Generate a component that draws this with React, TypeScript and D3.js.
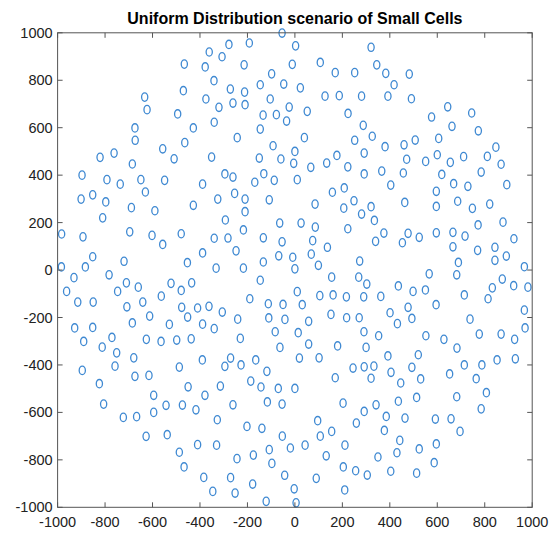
import React from "react";
import * as d3 from "d3";

const titleText = "Uniform Distribution scenario of Small Cells";
const xTicks = [-1000, -800, -600, -400, -200, 0, 200, 400, 600, 800, 1000];
const yTicks = [-1000, -800, -600, -400, -200, 0, 200, 400, 600, 800, 1000];

const cellsNorthWest: [number, number][] = [
  [-361,919],[-466,868],[-378,856],[-470,756],[-633,729],[-375,721],[-623,676],[-494,658],[-674,599],[-428,599],[-673,547],[-464,537],[-557,511],
];
const cellsNorth: [number, number][] = [
  [-54,999],[-278,951],[-192,957],[3,945],[-307,899],[-214,865],[-11,867],[107,875],[170,832],[252,832],[-98,827],[-341,798],[-146,781],[-47,784],[23,768],[-272,763],[-212,750],[127,733],[187,735],[281,733],[-104,721],[-261,704],[-210,697],[-320,686],[-24,687],[52,669],[-134,653],[-78,655],[-35,628],[224,660],[-340,623],[288,610],[-146,594],[-243,558],[40,558],[252,547],[-92,524],
];
const cellsNorthEast: [number, number][] = [
  [321,939],[345,865],[383,829],[482,826],[418,781],[392,733],[491,722],[644,688],[576,645],[745,662],[662,606],[773,587],[326,564],[507,548],[460,528],[606,555],[380,520],[847,518],
];
const cellsWestUpper: [number, number][] = [
  [-821,475],[-762,493],[-685,447],[-509,469],[-351,476],[-897,400],[-792,381],[-736,362],[-649,381],[-549,378],[-389,362],[-630,329],[-901,299],[-852,317],[-797,287],[-689,263],[-590,250],[-428,273],[-810,220],[-983,152],[-893,140],[-696,161],[-602,146],[-557,108],[-479,153],[-389,72],[-852,56],[-720,37],[-453,31],[-984,13],[-883,13],
];
const cellsCenterUpper: [number, number][] = [
  [0,500],[-150,472],[-59,468],[-5,450],[67,433],[134,451],[177,483],[223,435],[292,493],[292,405],[-295,405],[-261,392],[-131,406],[-169,370],[-87,378],[10,381],[-254,323],[-325,299],[-210,299],[-108,296],[158,328],[208,346],[249,292],[85,278],[206,261],[281,236],[-210,246],[-293,211],[-64,198],[26,198],[86,181],[223,174],[-217,169],[-340,134],[-282,135],[-133,136],[-54,119],[75,124],[137,96],[-248,81],[-68,60],[-9,54],[69,67],[-133,34],[99,20],[273,38],[-332,8],[-217,8],[0,5],
];
const cellsEastUpper: [number, number][] = [
  [471,467],[551,458],[600,486],[655,454],[711,478],[811,479],[869,446],[366,417],[457,409],[619,403],[785,413],[404,358],[669,364],[729,353],[893,360],[596,332],[463,285],[321,267],[596,268],[686,290],[748,260],[821,278],[335,209],[772,190],[877,202],[375,156],[340,121],[453,115],[477,155],[524,138],[596,157],[666,159],[717,143],[666,98],[923,132],[770,83],[843,96],[891,59],[843,41],[689,32],[967,14],
];
const cellsWestLower: [number, number][] = [
  [-931,-32],[-783,-20],[-962,-90],[-710,-54],[-660,-72],[-747,-90],[-522,-56],[-435,-54],[-479,-86],[-563,-110],[-915,-135],[-850,-135],[-708,-155],[-641,-135],[-477,-157],[-410,-160],[-362,-153],[-612,-194],[-452,-198],[-685,-223],[-529,-229],[-389,-228],[-928,-244],[-852,-242],[-890,-301],[-771,-284],[-812,-325],[-751,-349],[-626,-292],[-564,-301],[-498,-295],[-437,-290],[-679,-370],[-390,-379],[-896,-423],[-758,-405],[-674,-448],[-615,-444],[-487,-409],[-824,-479],[-450,-492],
];
const cellsCenterLower: [number, number][] = [
  [-146,-43],[155,-30],[269,-30],[303,-59],[-190,-121],[-112,-142],[-50,-145],[10,-91],[31,-146],[105,-108],[161,-105],[217,-113],[290,-113],[-306,-177],[-241,-207],[-340,-247],[-110,-202],[-42,-208],[58,-216],[152,-187],[218,-201],[271,-201],[-83,-260],[14,-264],[291,-260],[-230,-288],[-63,-326],[58,-312],[180,-320],[300,-326],[-271,-371],[-295,-406],[-227,-400],[-165,-379],[-118,-427],[19,-371],[102,-370],[245,-413],[292,-408],[170,-454],[-186,-468],[-314,-489],[-143,-493],[-70,-499],[0,-499],
];
const cellsEastLower: [number, number][] = [
  [566,-16],[682,-20],[362,-111],[436,-67],[498,-90],[550,-84],[595,-146],[714,-105],[832,-75],[874,-38],[922,-66],[982,-72],[814,-121],[967,-169],[970,-244],[401,-180],[477,-157],[432,-226],[493,-204],[738,-207],[353,-277],[552,-277],[628,-292],[777,-270],[869,-270],[926,-292],[683,-329],[392,-362],[520,-357],[333,-405],[493,-410],[714,-400],[788,-400],[852,-379],[929,-374],[321,-456],[405,-431],[446,-476],[530,-459],[652,-438],[764,-458],
];
const cellsSouthWest: [number, number][] = [
  [-595,-528],[-379,-528],[-806,-565],[-723,-621],[-667,-618],[-595,-600],[-543,-570],[-474,-569],[-417,-589],[-627,-701],[-538,-694],[-410,-736],[-487,-768],[-467,-830],[-384,-874],[-346,-933],
];
const cellsSouth: [number, number][] = [
  [-261,-568],[-116,-556],[-54,-565],[203,-561],[292,-596],[-327,-631],[-202,-659],[-139,-667],[96,-635],[259,-645],[-53,-700],[107,-700],[155,-680],[-330,-738],[43,-738],[211,-738],[-108,-757],[-19,-750],[-244,-795],[-175,-780],[-97,-815],[132,-783],[204,-830],[256,-846],[305,-864],[-271,-875],[-43,-865],[90,-878],[-178,-902],[-252,-940],[-3,-922],[210,-927],[-121,-975],[5,-981],
];
const cellsSouthEast: [number, number][] = [
  [807,-517],[682,-534],[513,-537],[436,-553],[342,-568],[785,-585],[385,-617],[464,-624],[592,-628],[658,-627],[696,-680],[377,-676],[442,-718],[596,-733],[524,-754],[430,-770],[350,-788],[587,-812],[404,-848],[513,-856],
];

const allCells = [
  ...cellsNorthWest, ...cellsNorth, ...cellsNorthEast,
  ...cellsWestUpper, ...cellsCenterUpper, ...cellsEastUpper,
  ...cellsWestLower, ...cellsCenterLower, ...cellsEastLower,
  ...cellsSouthWest, ...cellsSouth, ...cellsSouthEast,
];

const W = 558;
const H = 540;
const left = 57.6, right = 532.2, top = 32.8, bottom = 507.3;
const tickLen = 5;
const axisColor = "#555555";
const markerColor = "#3f89d2";
const font = "'Liberation Sans', Arial, sans-serif";

export default function App() {
  const x = d3.scaleLinear().domain([-1000, 1000]).range([left, right]);
  const y = d3.scaleLinear().domain([-1000, 1000]).range([bottom, top]);
  return (
    <svg width={W} height={H} style={{ position: "absolute", left: 0, top: 0, background: "#fff" }}>
      <rect x={0} y={0} width={W} height={H} fill="#fff" />
      <text x={(left + right) / 2} y={24} textAnchor="middle" fontFamily={font} fontWeight="bold" fontSize={16} fill="#000">
        {titleText}
      </text>
      <g>
        {allCells.map(([cx, cy], i) => (
          <ellipse key={i} cx={x(cx)} cy={y(cy)} rx={3.1} ry={4.2} fill="none" stroke={markerColor} strokeWidth={1.3} />
        ))}
      </g>
      <rect x={left} y={top} width={right - left} height={bottom - top} fill="none" stroke={axisColor} strokeWidth={1} />
      {xTicks.map((t) => (
        <g key={"x" + t}>
          <line x1={x(t)} x2={x(t)} y1={bottom} y2={bottom - tickLen} stroke={axisColor} />
          <line x1={x(t)} x2={x(t)} y1={top} y2={top + tickLen} stroke={axisColor} />
          <text x={x(t)} y={527} textAnchor="middle" fontFamily={font} fontSize={14.5} fill="#222">{t}</text>
        </g>
      ))}
      {yTicks.map((t) => (
        <g key={"y" + t}>
          <line x1={left} x2={left + tickLen} y1={y(t)} y2={y(t)} stroke={axisColor} />
          <line x1={right} x2={right - tickLen} y1={y(t)} y2={y(t)} stroke={axisColor} />
          <text x={left - 5} y={y(t) + 5} textAnchor="end" fontFamily={font} fontSize={14.5} fill="#222">{t}</text>
        </g>
      ))}
    </svg>
  );
}
